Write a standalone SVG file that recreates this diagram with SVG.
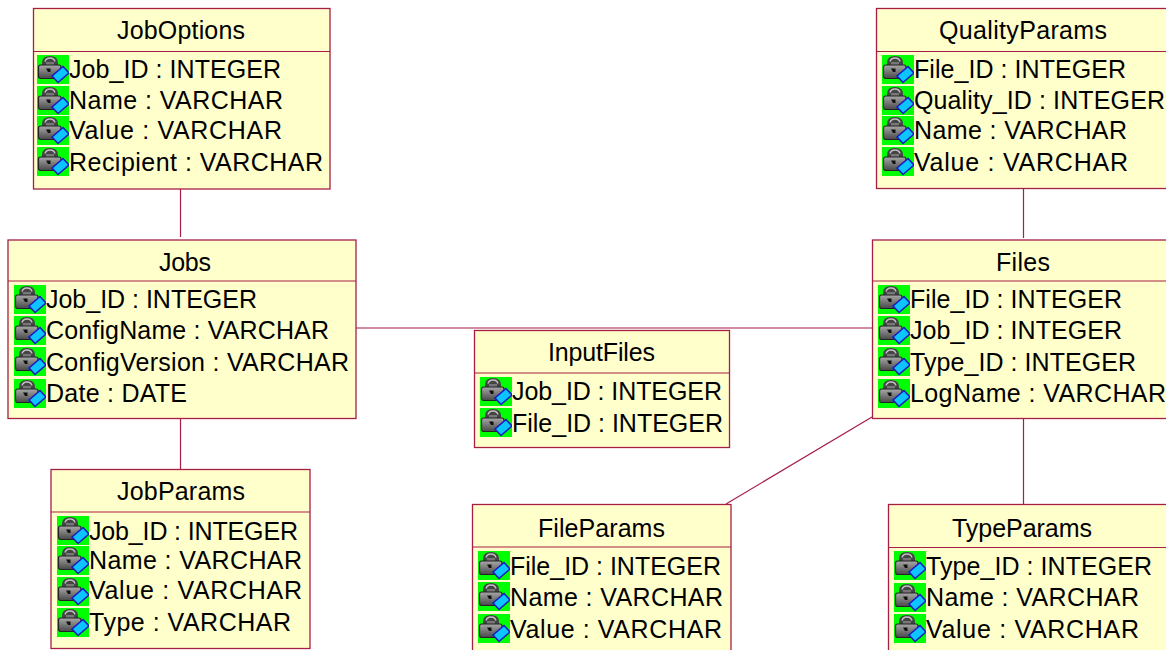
<svg xmlns="http://www.w3.org/2000/svg" width="1166" height="650" viewBox="0 0 1166 650">
<style>
.box{fill:#ffffcb;stroke:#a61e45;stroke-width:1.3}
.c{stroke:#a61e45;stroke-width:1.2;fill:none}
text{font-family:"Liberation Sans",Arial,sans-serif;font-size:25px;fill:#000}
.t{font-size:25px}
</style>
<defs>
<linearGradient id="lk" x1="0" y1="0" x2="0" y2="1"><stop offset="0" stop-color="#a8a8a8"/><stop offset="1" stop-color="#484848"/></linearGradient>
<symbol id="key" width="32" height="29" viewBox="0 0 32 29">
<rect width="32" height="29" fill="#00ff00"/>
<path d="M5 11V8Q5 1 13 1T21 8V11Z" fill="#444"/>
<path d="M8 6.500Q9 3 13 3T18 6.500" fill="none" stroke="#c0c0c0" stroke-width="1.400"/>
<rect x="9" y="7" width="8" height="3" fill="#777"/>
<rect x="1.500" y="10" width="22.500" height="13.500" rx="2" fill="url(#lk)" stroke="#222" stroke-width="1.200"/>
<path d="M9 13.500H13.500V17H11Z" fill="#111"/>
<path d="M15 21L26 11.500L32 18L21 27.500Z" fill="#0cc4ff" stroke="#1a1ac0" stroke-width="1.600"/>
</symbol>
</defs>
<rect width="1166" height="650" fill="#fff"/>
<g id="connectors" class="c">
<path d="M180.500 189V237M180.500 418V470M356 328H872M1023.500 189V238M1023.500 418V505M872 417L726 504"/>
</g>
<g id="JobOptions">
<rect class="box" x="33.500" y="8.500" width="296.500" height="180.500"/><path class="c" d="M33.500 51.500H330"/>
<text class="t" x="117" y="39" textLength="128">JobOptions</text>
<use href="#key" x="37" y="55"/><use href="#key" x="37" y="86"/><use href="#key" x="37" y="116"/><use href="#key" x="37" y="147"/>
<text x="69" y="78" textLength="212">Job_ID : INTEGER</text><text x="69" y="109" textLength="214">Name : VARCHAR</text><text x="69" y="139" textLength="213">Value : VARCHAR</text><text x="69" y="171" textLength="254">Recipient : VARCHAR</text>
</g>
<g id="Jobs">
<rect class="box" x="8" y="240" width="348" height="178.500"/><path class="c" d="M8 281H356"/>
<text class="t" x="159" y="271" textLength="52">Jobs</text>
<use href="#key" x="14" y="285"/><use href="#key" x="14" y="316"/><use href="#key" x="14" y="347"/><use href="#key" x="14" y="379"/>
<text x="46" y="308" textLength="211">Job_ID : INTEGER</text><text x="46" y="339" textLength="283">ConfigName : VARCHAR</text><text x="46" y="371" textLength="303">ConfigVersion : VARCHAR</text><text x="46" y="402" textLength="141">Date : DATE</text>
</g>
<g id="JobParams">
<rect class="box" x="51" y="469.500" width="259" height="179"/><path class="c" d="M51 512H310"/>
<text class="t" x="117" y="500" textLength="128">JobParams</text>
<use href="#key" x="57" y="516"/><use href="#key" x="57" y="546"/><use href="#key" x="57" y="577"/><use href="#key" x="57" y="608"/>
<text x="89" y="540" textLength="209">Job_ID : INTEGER</text><text x="89" y="569" textLength="213">Name : VARCHAR</text><text x="89" y="599" textLength="213">Value : VARCHAR</text><text x="89" y="631" textLength="202">Type : VARCHAR</text>
</g>
<g id="InputFiles">
<rect class="box" x="474.500" y="330.500" width="255" height="117"/><path class="c" d="M474.500 373H729.500"/>
<text class="t" x="548" y="361" textLength="107">InputFiles</text>
<use href="#key" x="480" y="377"/><use href="#key" x="480" y="408"/>
<text x="512" y="400" textLength="210">Job_ID : INTEGER</text><text x="512" y="432" textLength="211">File_ID : INTEGER</text>
</g>
<g id="FileParams">
<rect class="box" x="472.500" y="504.500" width="258.500" height="160"/><path class="c" d="M472.500 547H731"/>
<text class="t" x="538" y="537" textLength="127">FileParams</text>
<use href="#key" x="478" y="551"/><use href="#key" x="478" y="582"/><use href="#key" x="478" y="614"/>
<text x="510" y="575" textLength="211">File_ID : INTEGER</text><text x="510" y="606" textLength="213">Name : VARCHAR</text><text x="510" y="638" textLength="212">Value : VARCHAR</text>
</g>
<g id="QualityParams">
<rect class="box" x="876.500" y="8.500" width="296" height="180"/><path class="c" d="M876.500 51.500H1173"/>
<text class="t" x="939" y="39" textLength="168">QualityParams</text>
<use href="#key" x="882" y="55"/><use href="#key" x="882" y="86"/><use href="#key" x="882" y="116"/><use href="#key" x="882" y="147"/>
<text x="914" y="78" textLength="212">File_ID : INTEGER</text><text x="914" y="109" textLength="251">Quality_ID : INTEGER</text><text x="914" y="139" textLength="213">Name : VARCHAR</text><text x="914" y="171" textLength="214">Value : VARCHAR</text>
</g>
<g id="Files">
<rect class="box" x="872.500" y="240" width="300" height="178.500"/><path class="c" d="M872.500 281H1172"/>
<text class="t" x="996" y="271" textLength="54">Files</text>
<use href="#key" x="878" y="285"/><use href="#key" x="878" y="316"/><use href="#key" x="878" y="347"/><use href="#key" x="878" y="379"/>
<text x="910" y="308" textLength="212">File_ID : INTEGER</text><text x="910" y="339" textLength="212">Job_ID : INTEGER</text><text x="910" y="371" textLength="226">Type_ID : INTEGER</text><text x="910" y="402" textLength="256">LogName : VARCHAR</text>
</g>
<g id="TypeParams">
<rect class="box" x="888.500" y="504.500" width="285" height="160"/><path class="c" d="M888.500 547.500H1173"/>
<text class="t" x="952" y="537" textLength="140">TypeParams</text>
<use href="#key" x="894" y="551"/><use href="#key" x="894" y="583"/><use href="#key" x="894" y="614"/>
<text x="926" y="575" textLength="226">Type_ID : INTEGER</text><text x="926" y="606" textLength="213">Name : VARCHAR</text><text x="926" y="638" textLength="213">Value : VARCHAR</text>
</g>
</svg>
